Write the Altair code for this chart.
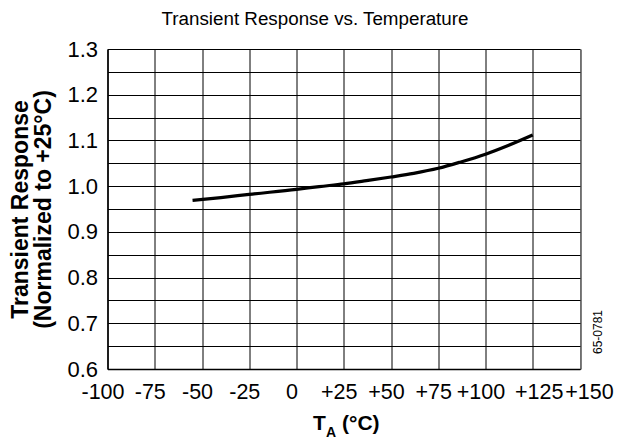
import altair as alt
import pandas as pd

# Data
temps = [-55, -40, -25, 0, 12, 25, 37, 50, 62, 75, 87, 100, 112, 125]
resp = [0.969, 0.975, 0.982, 0.993, 0.999, 1.005, 1.012, 1.020, 1.028, 1.039, 1.053, 1.070, 1.089, 1.112]

x_ticks = [-100, -75, -50, -25, 0, 25, 50, 75, 100, 125, 150]
y_grid = [0.6, 0.65, 0.7, 0.75, 0.8, 0.85, 0.9, 0.95, 1.0, 1.05, 1.1, 1.15, 1.2, 1.25, 1.3]

title_text = "Transient Response vs. Temperature"
y_title = ["Transient Response", "(Normalized to +25°C)"]
fig_code = "65-0781"

FONT = "Liberation Sans"
W, H = 472.5, 320

df = pd.DataFrame({"t": temps, "r": resp})

xscale = alt.Scale(domain=[-100, 150], nice=False, zero=False)
yscale = alt.Scale(domain=[0.6, 1.3], nice=False, zero=False)

line = alt.Chart(df).mark_line(color="black", strokeWidth=3.2, interpolate="monotone").encode(
    x=alt.X("t:Q", scale=xscale,
            axis=alt.Axis(values=x_ticks, title=None, ticks=False, grid=True,
                          gridColor="black", gridWidth=1, gridOpacity=1,
                          domainColor="black", domainWidth=1.5,
                          labelFont=FONT, labelFontSize=21.5, labelColor="black",
                          labelPadding=12, labelFlush=False, labelOverlap=False,
                          labelOffset={"expr": "datum.value >= 150 ? 9 : (datum.value >= 125 ? 6 : -5)"},
                          labelExpr="datum.value > 0 ? '+' + datum.value : '' + datum.value")),
    y=alt.Y("r:Q", scale=yscale,
            axis=alt.Axis(values=y_grid, title=y_title, ticks=False, grid=True,
                          gridColor="black", gridWidth=1, gridOpacity=1,
                          domainColor="black", domainWidth=1.5,
                          labelFont=FONT, labelFontSize=22, labelColor="black",
                          labelPadding=10, labelFlush=False,
                          labelExpr="abs(round(datum.value*20) % 2) == 0 ? format(datum.value, '.1f') : ''",
                          titleFont=FONT, titleFontSize=23, titleFontWeight="bold",
                          titleColor="black", titlePadding=11, titleLineHeight=23)),
)

# Chart title as a text annotation centred on the page
tt_df = pd.DataFrame({"s": [title_text]})
ttl = alt.Chart(tt_df).mark_text(font=FONT, fontSize=18.8, color="black",
                                 align="center", baseline="alphabetic").encode(
    text="s:N", x=alt.value(207.5), y=alt.value(-24))

# X-axis title with subscript, composed of text pieces
xt_df = pd.DataFrame({"s": ["T"]})
xt_T = alt.Chart(xt_df).mark_text(font=FONT, fontSize=21, fontWeight="bold", color="black",
                                  align="left", baseline="alphabetic").encode(
    text="s:N", x=alt.value(205.5), y=alt.value(381))
xa_df = pd.DataFrame({"s": ["A"]})
xt_A = alt.Chart(xa_df).mark_text(font=FONT, fontSize=14, fontWeight="bold", color="black",
                                  align="left", baseline="alphabetic").encode(
    text="s:N", x=alt.value(218.5), y=alt.value(388))
xc_df = pd.DataFrame({"s": ["(°C)"]})
xt_C = alt.Chart(xc_df).mark_text(font=FONT, fontSize=21, fontWeight="bold", color="black",
                                  align="left", baseline="alphabetic").encode(
    text="s:N", x=alt.value(234.5), y=alt.value(381))

code_df = pd.DataFrame({"s": [fig_code]})
code = alt.Chart(code_df).mark_text(font=FONT, fontSize=12, color="black", angle=270,
                                    align="center", baseline="middle").encode(
    text="s:N", x=alt.value(490.5), y=alt.value(283))

chart = alt.layer(line, ttl, xt_T, xt_A, xt_C, code).properties(
    width=W, height=H,
    autosize=alt.AutoSizeParams(type="none"),
    padding={"left": 99.5, "top": 41, "right": 38, "bottom": 74},
).configure_view(stroke="black", strokeWidth=1.5).configure(background="white")

chart.save("out.html", embed_options={"renderer": "svg", "actions": False})
